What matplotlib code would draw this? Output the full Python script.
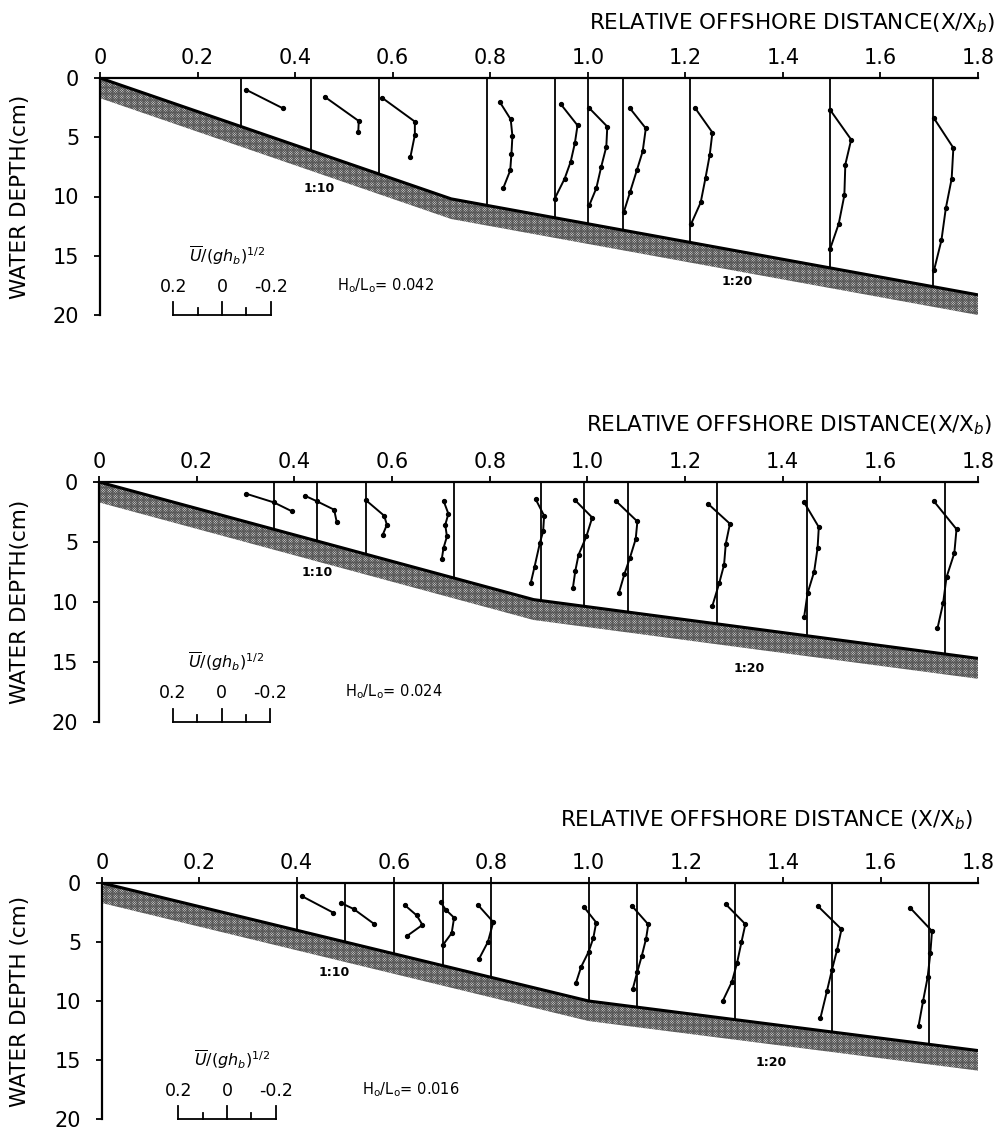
import numpy as np
import matplotlib.pyplot as plt

plt.rcParams['font.family'] = 'DejaVu Sans'
plt.rcParams['hatch.linewidth'] = 0.6
plt.rcParams['mathtext.fontset'] = 'dejavusans'

# ---- panel 1 : Ho/Lo = 0.042 ----
x1 = [0.29, 0.433, 0.573, 0.794, 0.932, 1.0, 1.073, 1.21, 1.497, 1.708]
d1 = [[1.0, 2.56],
      [1.58, 3.63, 4.53],
      [1.66, 3.68, 4.8, 6.64],
      [2.05, 3.49, 4.9, 6.4, 7.8, 9.26],
      [2.2, 4.0, 5.5, 7.06, 8.5, 10.2],
      [2.56, 4.1, 5.8, 7.5, 9.3, 10.7],
      [2.56, 4.25, 6.2, 7.8, 9.65, 11.3],
      [2.56, 4.6, 6.5, 8.4, 10.5, 12.3],
      [2.7, 5.2, 7.3, 9.9, 12.3, 14.4],
      [3.35, 5.9, 8.5, 11.0, 13.7, 16.2]]
u1 = [[-0.02, -0.17],
      [-0.055, -0.195, -0.193],
      [-0.01, -0.145, -0.145, -0.127],
      [-0.052, -0.096, -0.103, -0.099, -0.094, -0.066],
      [-0.025, -0.094, -0.083, -0.066, -0.041, 0.0],
      [-0.007, -0.080, -0.076, -0.055, -0.035, -0.007],
      [-0.027, -0.092, -0.079, -0.055, -0.027, -0.002],
      [-0.021, -0.091, -0.080, -0.063, -0.043, -0.004],
      [0.0, -0.086, -0.062, -0.058, -0.035, 0.0],
      [-0.002, -0.083, -0.076, -0.052, -0.034, -0.004]]
bedx1 = [0, 0.72, 1.8]
bedd1 = [0, 10.2, 18.3]

# ---- panel 2 : Ho/Lo = 0.024 ----
x2 = [0.358, 0.447, 0.547, 0.726, 0.906, 0.994, 1.083, 1.265, 1.449, 1.732]
d2 = [[0.98, 1.7, 2.45],
      [1.14, 1.62, 2.31, 3.37],
      [1.53, 2.81, 3.57, 4.4],
      [1.56, 2.65, 3.57, 4.54, 5.5, 6.4],
      [1.42, 2.81, 4.12, 5.05, 7.05, 8.44],
      [1.48, 2.96, 4.54, 6.07, 7.38, 8.8],
      [1.62, 3.29, 4.76, 6.35, 7.66, 9.27],
      [1.81, 3.48, 5.15, 6.9, 8.44, 10.33],
      [1.70, 3.76, 5.5, 7.47, 9.27, 11.23],
      [1.62, 3.93, 5.93, 7.94, 10.11, 12.2]]
u2 = [[0.113, 0.0, -0.075],
      [0.051, 0.0, -0.069, -0.080],
      [0.0, -0.074, -0.085, -0.068],
      [0.041, 0.021, 0.034, 0.027, 0.041, 0.048],
      [0.024, -0.011, -0.007, 0.006, 0.028, 0.044],
      [0.040, -0.032, -0.008, 0.024, 0.037, 0.047],
      [0.047, -0.039, -0.032, -0.008, 0.014, 0.037],
      [0.036, -0.054, -0.037, -0.030, -0.010, 0.018],
      [0.010, -0.050, -0.045, -0.031, -0.004, 0.010],
      [0.044, -0.048, -0.039, -0.007, 0.007, 0.030]]
bedx2 = [0, 0.89, 1.8]
bedd2 = [0, 9.8, 14.7]

# ---- panel 3 : Ho/Lo = 0.016 ----
x3 = [0.4, 0.5, 0.6, 0.7, 0.8, 1.0, 1.1, 1.3, 1.5, 1.7]
d3 = [[1.11, 2.5],
      [1.69, 2.2, 3.45],
      [1.87, 2.74, 3.55, 4.48],
      [1.65, 2.29, 2.94, 4.25, 5.28],
      [1.86, 3.31, 4.99, 6.45],
      [2.07, 3.35, 4.67, 5.82, 7.11, 8.45],
      [1.92, 3.51, 4.71, 6.2, 7.51, 9.0],
      [1.81, 3.49, 5.0, 6.76, 8.36, 10.04],
      [1.96, 3.92, 5.66, 7.34, 9.18, 11.48],
      [2.1, 4.07, 5.97, 7.99, 10.03, 12.08]]
u3 = [[-0.021, -0.149],
      [0.018, -0.034, -0.117],
      [-0.044, -0.093, -0.117, -0.054],
      [0.008, -0.014, -0.047, -0.037, 0.0],
      [0.055, -0.008, 0.014, 0.051],
      [0.018, -0.031, -0.019, 0.0, 0.031, 0.052],
      [0.023, -0.045, -0.036, -0.018, 0.0, 0.019],
      [0.036, -0.044, -0.028, -0.010, 0.011, 0.050],
      [0.058, -0.039, -0.021, 0.0, 0.021, 0.048],
      [0.079, -0.011, -0.004, 0.007, 0.026, 0.044]]
bedx3 = [0, 1.0, 1.8]
bedd3 = [0, 10.0, 14.2]

steepness = ['0.042', '0.024', '0.016']
xticks = [0, 0.2, 0.4, 0.6, 0.8, 1.0, 1.2, 1.4, 1.6, 1.8]
xticklabels = ['0', '0.2', '0.4', '0.6', '0.8', '1.0', '1.2', '1.4', '1.6', '1.8']
yticks = [0, 5, 10, 15, 20]

uscale = 0.5   # X shift per unit of U/(ghb)^1/2 (positive U drawn to the left)
band = 1.7     # thickness of stippled bed band (cm)

# axes boxes in figure pixels: left, top, bottom
boxes = [(100, 78, 315), (99, 482, 722), (102, 883, 1119)]
titles = ['RELATIVE OFFSHORE DISTANCE(X/X$_b$)',
          'RELATIVE OFFSHORE DISTANCE(X/X$_b$)',
          'RELATIVE OFFSHORE DISTANCE (X/X$_b$)']
ylabels = ['WATER DEPTH(cm)', 'WATER DEPTH(cm)', 'WATER DEPTH (cm)']
title_pos = [(995, 23), (992, 425), (973, 820)]
slope10 = [(0.45, 9.3), (0.446, 7.5), (0.478, 7.6)]
slope20 = [(1.307, 17.2), (1.332, 15.5), (1.375, 15.2)]
bar_c = [0.25, 0.251, 0.257]
ho_x = [0.486, 0.504, 0.535]

W, H = 1008, 1130
fig = plt.figure(figsize=(W / 100, H / 100), dpi=100)

panels = [(x1, d1, u1, bedx1, bedd1),
          (x2, d2, u2, bedx2, bedd2),
          (x3, d3, u3, bedx3, bedd3)]

for i, (xs, ds, us, bx, bd) in enumerate(panels):
    left, top, bot = boxes[i]
    ax = fig.add_axes([left / W, 1 - bot / H, (978 - left) / W, (bot - top) / H])
    ax.set_xlim(0, 1.8)
    ax.set_ylim(20, 0)

    # bed with stippled band
    xb = np.array(bx, dtype=float)
    yb = np.array(bd, dtype=float)
    ax.fill_between(xb, yb, yb + band, facecolor='0.95', edgecolor='0.35',
                    hatch='x' * 14, linewidth=0, zorder=1)
    ax.plot(xb, yb, color='black', lw=2.2, zorder=3, solid_capstyle='butt')

    # measuring stations and velocity profiles
    for xs_, dd, uu in zip(xs, ds, us):
        hb = np.interp(xs_, bx, bd)
        ax.plot([xs_, xs_], [0, hb], color='black', lw=1.3, zorder=2)
        px = xs_ - uscale * np.array(uu)
        ax.plot(px, dd, color='black', lw=1.4, marker='o', ms=2.8, zorder=4)

    # slope labels
    ax.text(*slope10[i], '1:10', fontsize=9, ha='center', va='center', fontweight='bold')
    ax.text(*slope20[i], '1:20', fontsize=9, ha='center', va='center', fontweight='bold')

    # velocity scale bar
    c = bar_c[i]
    bar_u = [0.2, 0.1, 0.0, -0.1, -0.2]
    tick_h = [1.1, 0.55, 1.1, 0.55, 1.1]
    ax.plot([c - uscale * 0.2, c + uscale * 0.2], [20, 20], color='black', lw=1.3,
            clip_on=False)
    for bu, th in zip(bar_u, tick_h):
        ax.plot([c - uscale * bu] * 2, [20, 20 - th], color='black', lw=1.3,
                clip_on=False)
    for bu, lab in zip([0.2, 0.0, -0.2], ['0.2', '0', '-0.2']):
        ax.text(c - uscale * bu, 17.6, lab, fontsize=12.5, ha='center', va='center')
    ax.text(c + 0.01, 15.0, r'$\overline{U}/(gh_b)^{1/2}$', fontsize=11.5,
            ha='center', va='center')
    ax.text(ho_x[i], 17.5, r'$\mathrm{H_o/L_o}$= ' + steepness[i], fontsize=10.5,
            ha='left', va='center')

    # axes styling
    for s in ['right', 'bottom']:
        ax.spines[s].set_visible(False)
    ax.spines['top'].set_linewidth(1.6)
    ax.spines['left'].set_linewidth(1.6)
    ax.xaxis.tick_top()
    ax.set_xticks(xticks)
    ax.set_xticklabels(xticklabels)
    ax.set_yticks(yticks)
    ax.set_yticklabels([str(v) for v in yticks])
    ax.tick_params(axis='x', direction='out', length=4, width=1.3, pad=3, labelsize=15)
    ax.tick_params(axis='y', direction='out', length=4, width=1.3, pad=11, labelsize=15)
    ax.set_ylabel(ylabels[i], fontsize=15.5)
    ax.yaxis.set_label_coords((30 - left) / (978 - left), 0.5)

    tx, ty = title_pos[i]
    fig.text(tx / W, 1 - ty / H, titles[i], fontsize=15.5, ha='right', va='center')

fig.savefig('out.png', dpi=100)
